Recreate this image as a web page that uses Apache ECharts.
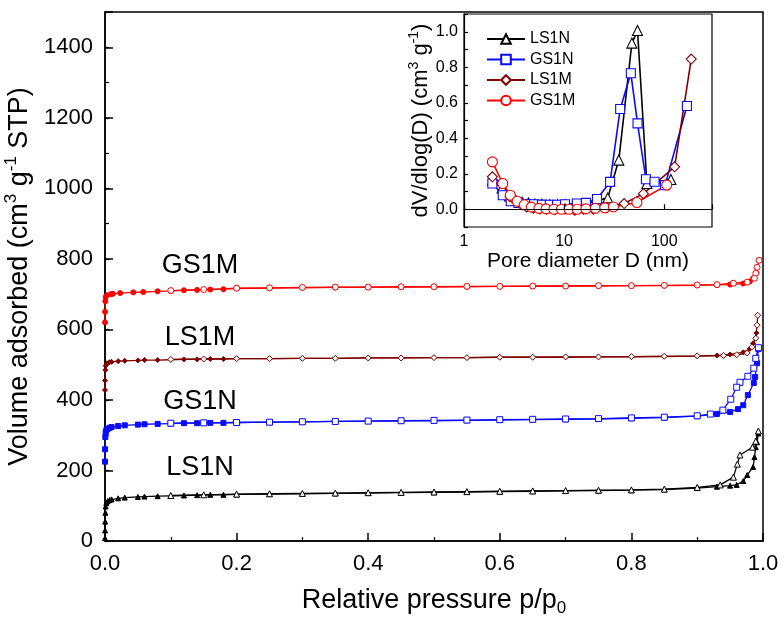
<!DOCTYPE html>
<html><head><meta charset="utf-8">
<script src="https://cdn.jsdelivr.net/npm/echarts@6/dist/echarts.min.js"></script>
<style>html,body{margin:0;padding:0;background:#fff}#c{width:783px;height:622px}</style>
</head><body><div id="c"></div>
<script>
// ---------- Main isotherms: [p/p0, volume] ----------
const LS1N_ads = [[0.00002,8],[0.0001,30],[0.0003,55],[0.0006,80],[0.001,98],[0.002,108],[0.004,113],[0.007,116],[0.01,118],[0.02,121],[0.03,123],[0.05,125],[0.06,126],[0.08,127],[0.1,128],[0.12,129],[0.14,130],[0.16,131],[0.18,131],[0.2,132],[0.25,133],[0.3,134],[0.35,135],[0.4,136],[0.45,137],[0.5,138],[0.55,139],[0.6,140],[0.65,141],[0.7,142],[0.75,143],[0.8,144],[0.85,146],[0.9,150],[0.93,154],[0.95,157],[0.96,159],[0.97,170],[0.976,187],[0.985,210],[0.987,238],[0.989,266],[0.991,280],[0.993,305]];
const LS1N_des = [[0.993,312],[0.989,283],[0.984,266],[0.965,244],[0.961,218],[0.955,181],[0.935,159],[0.9,152],[0.85,147],[0.8,145],[0.75,144],[0.7,143],[0.65,142],[0.6,141],[0.55,140],[0.5,139],[0.45,138],[0.4,137],[0.35,136],[0.3,135],[0.25,134],[0.2,133],[0.15,131],[0.1,129]];
const GS1N_ads = [[0.00002,225],[0.0001,260],[0.0005,295],[0.001,308],[0.002,314],[0.004,318],[0.007,321],[0.01,323],[0.02,326],[0.03,328],[0.05,330],[0.06,331],[0.08,332],[0.1,333],[0.12,334],[0.14,334],[0.16,335],[0.18,335],[0.2,336],[0.25,337],[0.3,338],[0.35,339],[0.4,340],[0.45,341],[0.5,341],[0.55,342],[0.6,343],[0.65,344],[0.7,345],[0.75,346],[0.8,348],[0.85,350],[0.9,354],[0.93,360],[0.95,366],[0.962,374],[0.97,385],[0.977,414],[0.986,448],[0.988,465],[0.991,504],[0.993,544]];
const GS1N_des = [[0.993,548],[0.989,518],[0.986,490],[0.977,467],[0.965,450],[0.96,436],[0.951,402],[0.939,371],[0.92,360],[0.9,355],[0.85,351],[0.8,349],[0.75,347],[0.7,346],[0.65,345],[0.6,344],[0.55,343],[0.5,342],[0.45,341],[0.4,340],[0.35,339],[0.3,338],[0.25,337],[0.2,336],[0.15,335],[0.1,334]];
const LS1M_ads = [[0.00002,428],[0.0001,455],[0.0005,485],[0.001,497],[0.003,504],[0.007,507],[0.01,508],[0.02,510],[0.03,511],[0.05,512],[0.06,513],[0.08,513],[0.1,514],[0.12,515],[0.14,515],[0.16,516],[0.18,516],[0.2,517],[0.25,517],[0.3,518],[0.35,518],[0.4,519],[0.45,519],[0.5,520],[0.55,520],[0.6,521],[0.65,521],[0.7,521],[0.75,522],[0.8,522],[0.85,523],[0.9,524],[0.93,526],[0.95,529],[0.97,535],[0.98,545],[0.985,560],[0.99,590]];
const LS1M_des = [[0.992,640],[0.991,612],[0.989,575],[0.983,550],[0.976,533],[0.96,528],[0.94,526],[0.9,525],[0.85,524],[0.8,523],[0.75,522],[0.7,522],[0.65,521],[0.6,521],[0.55,520],[0.5,520],[0.45,519],[0.4,519],[0.35,518],[0.3,518],[0.25,517],[0.2,517],[0.15,516],[0.1,515]];
const GS1M_ads = [[0.00002,620],[0.0001,650],[0.0005,680],[0.001,692],[0.003,697],[0.009,700],[0.012,701],[0.023,703],[0.043,705],[0.058,706],[0.08,708],[0.1,709],[0.12,711],[0.14,712],[0.16,713],[0.18,714],[0.2,716],[0.25,717],[0.3,718],[0.35,719],[0.4,720],[0.45,720],[0.5,721],[0.55,721],[0.6,722],[0.65,722],[0.7,723],[0.75,723],[0.8,724],[0.85,724],[0.9,725],[0.93,726],[0.95,727],[0.97,730],[0.98,736],[0.985,745],[0.99,760]];
const GS1M_des = [[0.994,796],[0.991,776],[0.989,759],[0.987,745],[0.976,734],[0.955,731],[0.93,727],[0.9,726],[0.85,725],[0.8,724],[0.75,724],[0.7,723],[0.65,723],[0.6,722],[0.55,722],[0.5,721],[0.45,721],[0.4,720],[0.35,720],[0.3,719],[0.25,718],[0.2,717],[0.15,713],[0.1,710]];

// ---------- Inset: pore size distribution ----------
const LS1N_D = [1.92,2.4,2.85,3.3,3.8,4.4,5.1,6.0,7.2,8.6,10.3,12.5,15.8,20.9,27.3,35.2,47.5,54.1,67.1,116.6];
const LS1N_V = [0.164,0.12,0.075,0.05,0.04,0.035,0.03,0.028,0.025,0.025,0.025,0.025,0.028,0.047,0.064,0.277,0.936,1.007,0.145,0.168];
const GS1N_D = [1.92,2.44,2.93,3.5,4.2,5.0,6.0,7.2,8.5,10.2,13.4,16.5,21.3,28.8,36.3,46.4,54.1,65.6,80,102,168.5];
const GS1N_V = [0.145,0.079,0.045,0.035,0.03,0.028,0.026,0.025,0.025,0.028,0.032,0.036,0.058,0.154,0.565,0.766,0.484,0.169,0.155,0.135,0.582];
const LS1M_D = [1.92,2.38,2.88,3.24,3.63,4.23,4.93,5.75,6.7,8.1,10.2,12.8,15.6,19.6,26.7,39.8,62.0,127,186];
const LS1M_V = [0.183,0.145,0.07,0.05,0.032,0.013,0.006,0.002,0.0,-0.002,0.002,-0.005,0.0,0.0,0.009,0.032,0.088,0.239,0.846];
const GS1M_D = [1.92,2.44,2.9,3.4,4.0,4.7,5.6,6.6,7.9,9.4,11.2,13.5,16.5,20.5,25.5,31.1,53.3,106];
const GS1M_V = [0.267,0.145,0.079,0.045,0.025,0.012,0.005,0.002,0.0,0.0,0.0,0.0,0.002,0.005,0.008,0.013,0.038,0.136];

const sampleNames = ['LS1N','GS1N','LS1M','GS1M'];
const xTickLabels = ['0.0','0.2','0.4','0.6','0.8','1.0'];

const FONT = '"Liberation Sans", Arial, sans-serif';
const colors = {LS1N:'#000000', GS1N:'#0a0aff', LS1M:'#800000', GS1M:'#ff0000'};
const symbols = {LS1N:'triangle', GS1N:'rect', LS1M:'diamond', GS1M:'circle'};
const mainData = {LS1N:[LS1N_ads,LS1N_des], GS1N:[GS1N_ads,GS1N_des], LS1M:[LS1M_ads,LS1M_des], GS1M:[GS1M_ads,GS1M_des]};
const insetData = {LS1N:[LS1N_D,LS1N_V], GS1N:[GS1N_D,GS1N_V], LS1M:[LS1M_D,LS1M_V], GS1M:[GS1M_D,GS1M_V]};

const series = [];
sampleNames.forEach(n => {
  const c = colors[n];
  series.push({name:n+' ads', type:'line', xAxisIndex:0, yAxisIndex:0, data:mainData[n][0],
    symbol:symbols[n], symbolSize:5, showSymbol:true, lineStyle:{color:c,width:1.3},
    itemStyle:{color:c, borderColor:c, borderWidth:1}, animation:false, z:3});
  series.push({name:n+' des', type:'line', xAxisIndex:0, yAxisIndex:0, data:mainData[n][1],
    symbol:symbols[n], symbolSize:6, showSymbol:true, lineStyle:{color:c,width:1.3},
    itemStyle:{color:'#fff', borderColor:c, borderWidth:1}, animation:false, z:3});
});
sampleNames.forEach(n => {
  const c = colors[n];
  const d = insetData[n][0].map((x,i)=>[x, insetData[n][1][i]]);
  series.push({name:n, type:'line', xAxisIndex:1, yAxisIndex:2, data:d,
    symbol:symbols[n], symbolSize: n==='GS1N'?9:10, showSymbol:true, lineStyle:{color:c,width:1.6},
    itemStyle:{color:'#fff', borderColor:c, borderWidth:1.1}, animation:false, z:5});
});

const axisCommon = {axisLine:{show:true, lineStyle:{color:'#000', width:1.5}}, splitLine:{show:false}};
const lbl = (t, y) => ({type:'text', x:200, y:y, style:{text:t, font:'27px '+FONT, fill:'#000', textAlign:'center', textVerticalAlign:'middle'}});

const option = {
  backgroundColor:'#fff',
  animation:false,
  grid:[
    {left:105, top:12, width:658, height:529, show:true, borderColor:'#000', borderWidth:1.5, backgroundColor:'transparent', outerBoundsMode:'none', containLabel:false},
    {left:464, top:14, width:248, height:213, show:true, borderColor:'#000', borderWidth:1.2, backgroundColor:'#fff', z:4, outerBoundsMode:'none', containLabel:false}
  ],
  xAxis:[
    Object.assign({}, axisCommon, {gridIndex:0, type:'value', min:0, max:1, interval:0.2,
      axisTick:{inside:true, length:8, lineStyle:{color:'#000',width:1.5}},
      minorTick:{show:true, splitNumber:2, length:4, lineStyle:{color:'#000',width:1.2}},
      axisLabel:{color:'#000', fontSize:22, fontFamily:FONT, margin:12,
        formatter:(v)=>{const i=Math.round(v/0.2); return Math.abs(v-i*0.2)<1e-6 ? xTickLabels[i] : '';}},
      name:'{a|Relative pressure p/p}{b|0}', nameLocation:'middle', nameGap:44,
      nameTextStyle:{rich:{a:{fontSize:27, fontFamily:FONT, color:'#000', lineHeight:32}, b:{fontSize:17, fontFamily:FONT, color:'#000', verticalAlign:'bottom', lineHeight:32}}}
    }),
    Object.assign({}, axisCommon, {gridIndex:1, type:'log', logBase:10, min:1, max:300,
      axisLine:{show:true, lineStyle:{color:'#000', width:1.2}},
      axisTick:{inside:true, length:5, lineStyle:{color:'#000',width:1.2}},
      axisLabel:{color:'#000', fontSize:16, fontFamily:FONT, margin:7,
        formatter:(v)=> (Math.abs(v-1)<1e-6||Math.abs(v-10)<1e-6||Math.abs(v-100)<1e-4) ? String(Math.round(v)) : ''},
      name:'Pore diameter D (nm)', nameLocation:'middle', nameGap:24,
      nameTextStyle:{fontSize:21, fontFamily:FONT, color:'#000'}, z:6
    })
  ],
  yAxis:[
    Object.assign({}, axisCommon, {gridIndex:0, type:'value', min:0, max:1500, interval:200,
      axisTick:{inside:true, length:8, lineStyle:{color:'#000',width:1.5}},
      axisLabel:{color:'#000', fontSize:22, fontFamily:FONT, margin:12,
        formatter:(v)=> (v%200===0 && v<=1400) ? String(v) : ''},
      name:'{a|Volume adsorbed (cm}{s|3}{a| g}{s|-1}{a| STP)}', nameLocation:'middle', nameGap:63,
      nameTextStyle:{rich:{a:{fontSize:27, fontFamily:FONT, color:'#000', lineHeight:33}, s:{fontSize:17, fontFamily:FONT, color:'#000', verticalAlign:'top', lineHeight:33}}}
    }),
    {gridIndex:0, type:'value', min:0, max:1500, interval:100, position:'left', offset:0,
      axisLine:{show:false}, splitLine:{show:false}, axisLabel:{show:false},
      axisTick:{show:true, inside:true, length:4, lineStyle:{color:'#000',width:1.2}}},
    Object.assign({}, axisCommon, {gridIndex:1, type:'value', min:-0.1, max:1.1, interval:0.1,
      axisLine:{show:true, lineStyle:{color:'#000', width:1.2}},
      axisTick:{inside:true, length:4, lineStyle:{color:'#000',width:1.2}},
      axisLabel:{color:'#000', fontSize:16, fontFamily:FONT, margin:6,
        formatter:(v)=>{const k=Math.round(v*10); return (k>=0 && k<=10 && k%2===0) ? (k/10).toFixed(1) : '';}},
      name:'{a|dV/dlog(D) (cm}{s|3}{a| g}{s|-1}{a|)}', nameLocation:'middle', nameGap:27,
      nameTextStyle:{rich:{a:{fontSize:22, fontFamily:FONT, color:'#000', lineHeight:27}, s:{fontSize:14, fontFamily:FONT, color:'#000', verticalAlign:'top', lineHeight:27}}}, z:6
    })
  ],
  legend:{show:true, data:sampleNames, orient:'vertical', left:481, top:26, itemWidth:38, itemHeight:12, itemGap:4.5,
    textStyle:{fontSize:16, fontFamily:FONT, color:'#000'}, selectedMode:false, z:7},
  graphic:[ lbl('GS1M',266), lbl('LS1M',338), lbl('GS1N',402), lbl('LS1N',468) ],
  series: series
};
const chart = echarts.init(document.getElementById('c'), null, {renderer:'canvas'});
chart.setOption(option);
</script></body></html>
